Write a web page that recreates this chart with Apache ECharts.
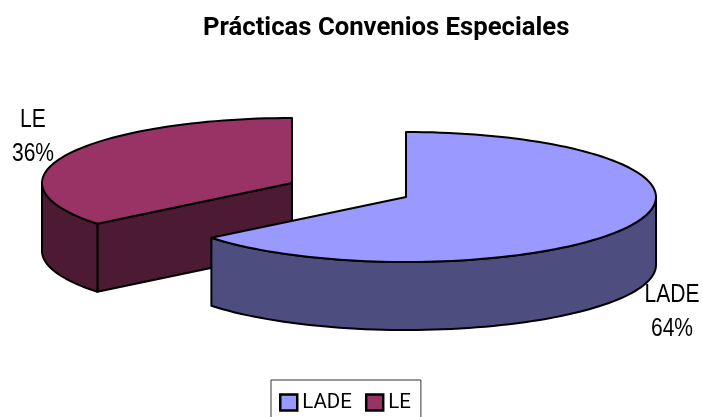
<!DOCTYPE html>
<html><head><meta charset="utf-8">
<style>html,body{margin:0;padding:0;background:#fff}#c{width:703px;height:417px}</style>
<script src="https://cdn.jsdelivr.net/npm/echarts@6/dist/echarts.min.js"></script>
</head><body><div id="c"></div>
<script>
var titleText = 'Prácticas Convenios Especiales';
var categories = ['LADE', 'LE'];
var values = [64.2, 35.8];
var topColors = ['#9999FF', '#993366'];
var sideColors = ['#4D4D80', '#4D1A33'];
var FONT = '"Liberation Sans",Arial,sans-serif';

var total = values.reduce(function (a, b) { return a + b; }, 0);
var RX = 250, RY = 65, DEPTH = 68;
var layouts = [
  { cx: 406, cy: 197, lx: 672, ly: 312 },
  { cx: 292, cy: 183, lx: 33, ly: 137 }
];

function pt(l, deg, dz) {
  var r = deg * Math.PI / 180;
  return [l.cx + RX * Math.sin(r), l.cy - RY * Math.cos(r) + (dz || 0)];
}
function arc(l, a0, a1, dz) {
  var pts = [], n = Math.max(2, Math.ceil(Math.abs(a1 - a0) / 2));
  for (var i = 0; i <= n; i++) pts.push(pt(l, a0 + (a1 - a0) * i / n, dz));
  return pts;
}
function poly(points, fill) {
  return { type: 'polygon', shape: { points: points },
    style: { fill: fill, stroke: '#000', lineWidth: 2, lineJoin: 'round' } };
}
function render(idx) {
  return function (params, api) {
    var before = 0;
    for (var i = 0; i < idx; i++) before += values[i];
    var a0 = before / total * 360;
    var a1 = a0 + api.value(0) / total * 360;
    var l = layouts[idx], c = [l.cx, l.cy], children = [];
    if (a0 > 180 && a0 < 360) {
      var p = pt(l, a0);
      children.push(poly([c, p, [p[0], p[1] + DEPTH], [c[0], c[1] + DEPTH]], sideColors[idx]));
    }
    var s0 = Math.max(a0, 90), s1 = Math.min(a1, 270);
    if (s1 > s0) {
      children.push(poly(arc(l, s0, s1, 0).concat(arc(l, s1, s0, DEPTH)), sideColors[idx]));
    }
    children.push(poly([c].concat(arc(l, a0, a1, 0)), topColors[idx]));
    children.push({ type: 'text', x: l.lx, y: l.ly, scaleX: 0.81, style: {
      text: categories[idx] + '\n' + Math.round(api.value(0) / total * 100) + '%',
      x: 0, y: 0, align: 'center', verticalAlign: 'middle',
      font: '26px ' + FONT, lineHeight: 34, fill: '#000' } });
    return { type: 'group', children: children };
  };
}
var order = [1, 0];
var chart = echarts.init(document.getElementById('c'), null, { renderer: 'canvas' });
chart.setOption({
  animation: false,
  backgroundColor: '#fff',
  title: { text: titleText, left: 198, top: 11,
    textStyle: { fontFamily: 'Roboto', fontSize: 25.7, fontWeight: 'bold', color: '#000' } },
  legend: {
    left: 271, top: 380, padding: [12, 10, 30, 8], itemGap: 13, itemWidth: 17, itemHeight: 16,
    borderColor: '#333', borderWidth: 1, selectedMode: false,
    textStyle: { fontFamily: 'Roboto', fontSize: 20.5, color: '#000' },
    data: categories.map(function (n, i) {
      return { name: n, icon: 'rect', itemStyle: { color: topColors[i], borderColor: '#000', borderWidth: 2.5 } };
    })
  },
  series: order.map(function (i) {
    return { type: 'custom', name: categories[i], coordinateSystem: 'none', silent: true,
      itemStyle: { color: topColors[i] },
      data: [[values[i]]], renderItem: render(i) };
  })
});
</script></body></html>
